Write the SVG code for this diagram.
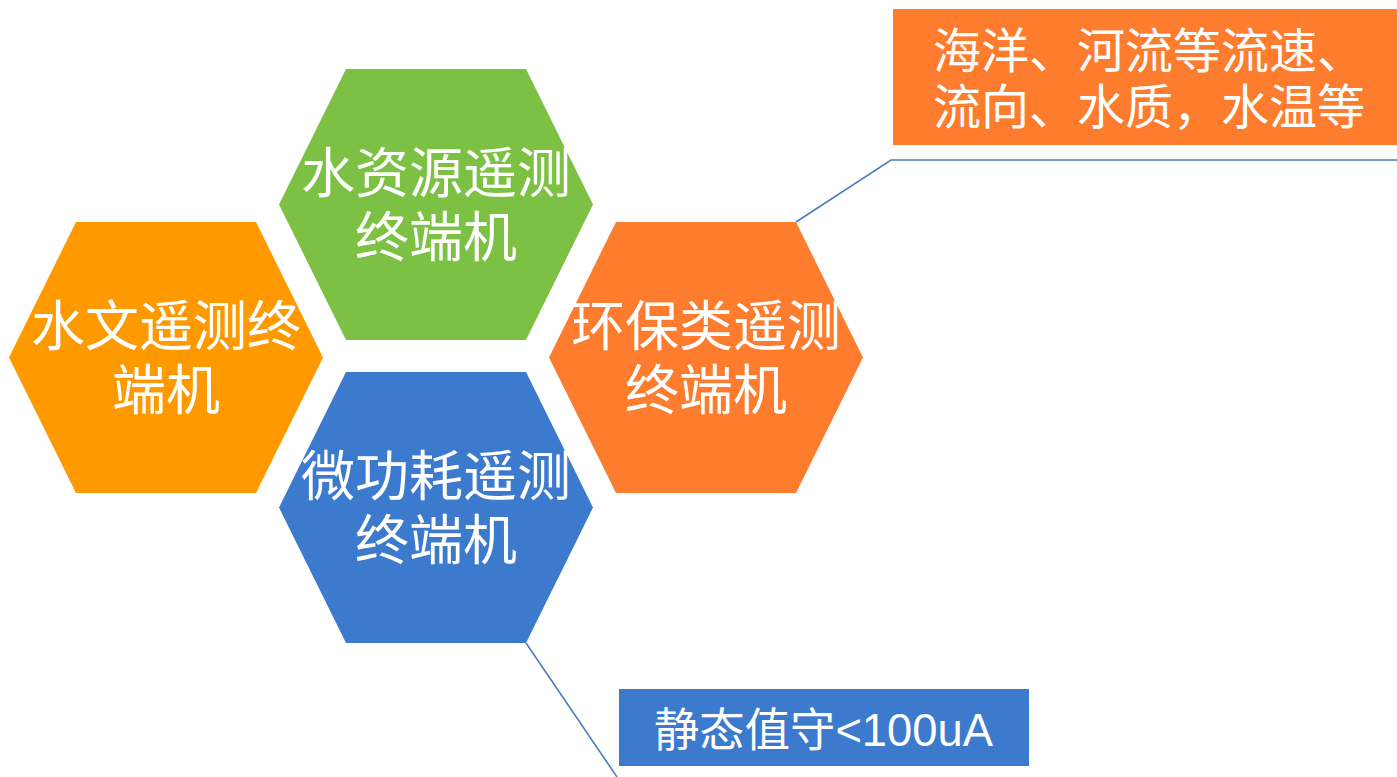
<svg xmlns="http://www.w3.org/2000/svg" xmlns:xlink="http://www.w3.org/1999/xlink" width="1397" height="777" viewBox="0 0 1397 777">
  <style>
    .hex-label { font-family: "Noto Sans CJK SC", "Liberation Sans", sans-serif; font-size: 54px; fill: #ffffff; text-anchor: middle; }
    .box-label { font-family: "Liberation Serif", "Noto Sans CJK SC", serif; font-size: 48px; fill: #ffffff; }
    .box-label2 { font-family: "Liberation Sans", "Noto Sans CJK SC", sans-serif; font-size: 46px; fill: #ffffff; }
    .conn { fill: none; stroke: #4A7EBB; stroke-width: 1.6; }
  </style>
  <defs>
    <polygon id="hex" points="67,0 247,0 314,135.5 247,271 67,271 0,135.5"/>
  </defs>
  <rect width="1397" height="777" fill="#ffffff"/>

  <g id="connectors">
    <polyline class="conn" points="796,222 891,160 1397,160"/>
    <polyline class="conn" points="526,643 617,777"/>
  </g>

  <g id="node-water-resource">
    <use xlink:href="#hex" href="#hex" x="279" y="69" fill="#7DC144"/>
    <text class="hex-label" x="436" y="193">水资源遥测</text>
    <text class="hex-label" x="436" y="257">终端机</text>
  </g>

  <g id="node-hydrology">
    <use xlink:href="#hex" href="#hex" x="9" y="222" fill="#FE9A00"/>
    <text class="hex-label" x="166" y="346">水文遥测终</text>
    <text class="hex-label" x="166" y="410">端机</text>
  </g>

  <g id="node-environment">
    <use xlink:href="#hex" href="#hex" x="549" y="222" fill="#FE7C2D"/>
    <text class="hex-label" x="706" y="346">环保类遥测</text>
    <text class="hex-label" x="706" y="410">终端机</text>
  </g>

  <g id="node-low-power">
    <use xlink:href="#hex" href="#hex" x="279" y="372" fill="#3C7ACE"/>
    <text class="hex-label" x="436" y="496">微功耗遥测</text>
    <text class="hex-label" x="436" y="560">终端机</text>
  </g>

  <g id="note-environment">
    <rect x="893" y="9" width="504" height="136" fill="#FE7C2D"/>
    <text class="box-label" x="933" y="68">海洋、河流等流速、</text>
    <text class="box-label" x="933" y="124">流向、水质，水温等</text>
  </g>

  <g id="note-low-power">
    <rect x="619" y="689" width="410" height="77" fill="#3C7ACE"/>
    <text class="box-label2" x="654" y="746" textLength="339" lengthAdjust="spacingAndGlyphs">静态值守&lt;100uA</text>
  </g>
</svg>
